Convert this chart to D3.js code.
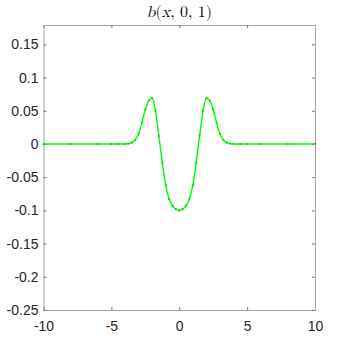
<!DOCTYPE html>
<html>
<head>
<meta charset="utf-8">
<script src="https://cdn.jsdelivr.net/npm/d3@7"></script>
<style>
  body { margin: 0; background: #fff; }
  svg text { font-family: "Liberation Sans", Helvetica, Arial, sans-serif; }
</style>
</head>
<body>
<div id="chart"></div>
<script>
// values (curve is symmetric around x = 0)
const xValues = [-10, -8, -6, -5, -4.5, -4, -3.75, -3.5, -3.25, -3, -2.75, -2.5, -2.25, -2, -1.75, -1.5, -1.25, -1, -0.75, -0.5, -0.25,
  0, 0.25, 0.5, 0.75, 1, 1.25, 1.5, 1.75, 2, 2.25, 2.5, 2.75, 3, 3.25, 3.5, 3.75, 4, 4.5, 5, 6, 8, 10];
const bValues = [0, 0, 0, 0, 0, 0, 0.0005, 0.002, 0.006, 0.015, 0.032, 0.052, 0.065, 0.069, 0.050, 0.012, -0.028, -0.062, -0.083, -0.093, -0.098,
  -0.100, -0.098, -0.093, -0.083, -0.062, -0.028, 0.012, 0.050, 0.069, 0.065, 0.052, 0.032, 0.015, 0.006, 0.002, 0.0005, 0, 0, 0, 0, 0, 0];
const xTicks = [-10, -5, 0, 5, 10];
const xTickLabels = ["-10", "-5", "0", "5", "10"];
const yTicks = [0.15, 0.1, 0.05, 0, -0.05, -0.1, -0.15, -0.2, -0.25];
const yTickLabels = ["0.15", "0.1", "0.05", "0", "-0.05", "-0.1", "-0.15", "-0.2", "-0.25"];

const W = 338, H = 341;
const margin = {top: 25, right: 23, bottom: 31, left: 43.5},
    width = W - margin.left - margin.right,
    height = H - margin.top - margin.bottom;

const svg = d3.select("#chart")
  .append("svg")
    .attr("width", W)
    .attr("height", H)
  .append("g")
    .attr("transform", `translate(${margin.left},${margin.top})`);

const x = d3.scaleLinear().domain([-10, 10]).range([0, width]);
const y = d3.scaleLinear().domain([-0.25, 0.1792]).range([height, 0]);

const axisColor = "#a6a6a6";
const tickLen = 3;

// bottom axis with labels
const gx = svg.append("g")
  .attr("transform", `translate(0,${height})`)
  .call(d3.axisBottom(x).tickValues(xTicks).tickSize(-tickLen).tickPadding(11)
    .tickFormat((d, i) => xTickLabels[i]));
// top axis ticks only
const gxt = svg.append("g")
  .call(d3.axisTop(x).tickValues(xTicks).tickSize(-tickLen).tickFormat(""));
// left axis with labels
const gy = svg.append("g")
  .call(d3.axisLeft(y).tickValues(yTicks).tickSize(-tickLen).tickPadding(5)
    .tickFormat((d, i) => yTickLabels[i]));
// right axis ticks only
const gyr = svg.append("g")
  .attr("transform", `translate(${width},0)`)
  .call(d3.axisRight(y).tickValues(yTicks).tickSize(-tickLen).tickFormat(""));

[gx, gxt, gy, gyr].forEach(g => {
  g.select(".domain").attr("stroke", axisColor).attr("stroke-width", 1);
  g.selectAll(".tick line").attr("stroke", "#777");
  g.selectAll(".tick text").attr("fill", "#262626").style("font-size", "14px");
});

// the curve
const pts = xValues.map((d, i) => ({x: d, v: bValues[i]}));

svg.append("path")
  .datum(pts)
  .attr("fill", "none")
  .attr("stroke", "#00ff00")
  .attr("stroke-width", 1.4)
  .attr("d", d3.line().x(d => x(d.x)).y(d => y(d.v)).curve(d3.curveMonotoneX));

svg.selectAll("circle.pt")
  .data(pts)
  .enter().append("circle")
    .attr("class", "pt")
    .attr("cx", d => x(d.x))
    .attr("cy", d => y(d.v))
    .attr("r", 1.1)
    .attr("fill", "#00dd00");

// title b(x,0,1)
const title = svg.append("text")
  .attr("x", width / 2)
  .attr("y", -8)
  .attr("text-anchor", "middle")
  .style("font-family", "'Latin Modern Math', 'DejaVu Serif', 'Liberation Serif', serif")
  .style("font-size", "16px")
  .attr("fill", "#000");
title.append("tspan").style("font-style", "italic").text("b");
title.append("tspan").text("(");
title.append("tspan").style("font-style", "italic").text("x");
title.append("tspan").text(", 0, 1)");
</script>
</body>
</html>
